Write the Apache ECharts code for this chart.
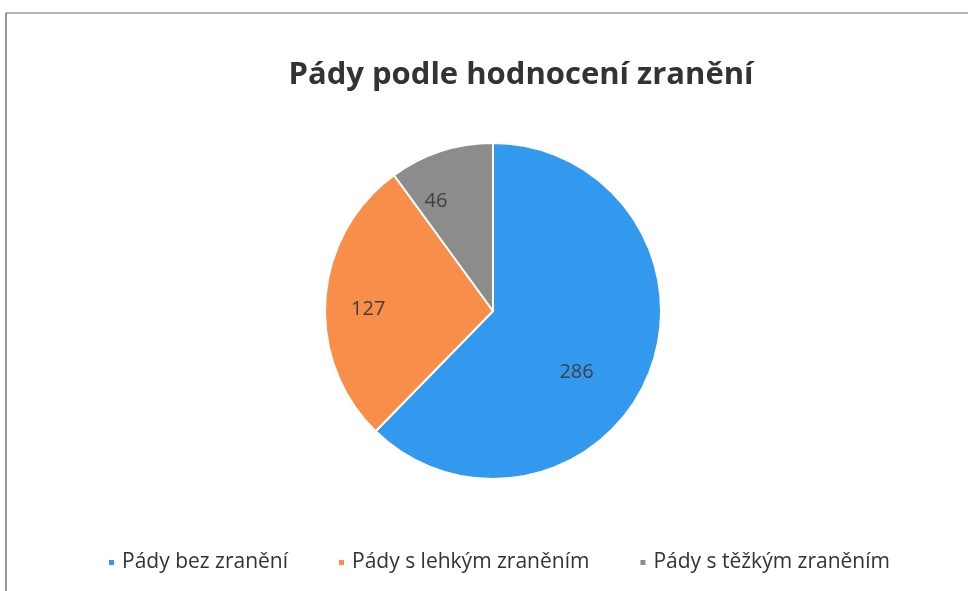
<!DOCTYPE html>
<html><head><meta charset="utf-8">
<script src="https://cdn.jsdelivr.net/npm/echarts@6/dist/echarts.min.js"></script>
<style>html,body{margin:0;padding:0;background:#fff;}#c{width:968px;height:591px;}</style>
</head><body><div id="c"></div>
<script>
const categories = ['Pády bez zranění', 'Pády s lehkým zraněním', 'Pády s těžkým zraněním'];
const values = [286, 127, 46];
const colors = ['#3399EE', '#F78E4A', '#8C8C8C'];

const labelOffsets = [[3, 28], [-38, 5], [-30, -27]];

const chart = echarts.init(document.getElementById('c'));
chart.setOption({
  animation: false,
  backgroundColor: '#fff',
  title: {
    text: 'Pády podle hodnocení zranění',
    left: 516, top: 55, textAlign: 'center',
    textStyle: {fontFamily: 'Open Sans', fontSize: 31, fontWeight: 'bold', color: '#333'}
  },
  legend: {
    bottom: 13, left: 102,
    itemWidth: 7, itemHeight: 7, itemGap: 49,
    icon: 'rect',
    textStyle: {fontFamily: 'Open Sans', fontSize: 21, color: '#333', padding: [0,0,0,2]},
    data: categories
  },
  graphic: [
    {type: 'line', shape: {x1: 6, y1: 13, x2: 968, y2: 13}, style: {stroke: '#999', lineWidth: 1.5}},
    {type: 'line', shape: {x1: 6, y1: 13, x2: 6, y2: 591}, style: {stroke: '#777', lineWidth: 1.5}}
  ],
  series: [{
    type: 'pie',
    center: [493, 311],
    radius: 168,
    startAngle: 90,
    clockwise: true,
    itemStyle: {borderColor: '#fff', borderWidth: 2},
    label: {position: 'inside', formatter: '{c}', fontFamily: 'Open Sans', fontSize: 20, color: '#404040'},
    labelLine: {show: false},
    emphasis: {disabled: true},
    data: categories.map((n, i) => ({name: n, value: values[i], itemStyle: {color: colors[i]}, label: {offset: labelOffsets[i]}}))
  }]
});
</script></body></html>
